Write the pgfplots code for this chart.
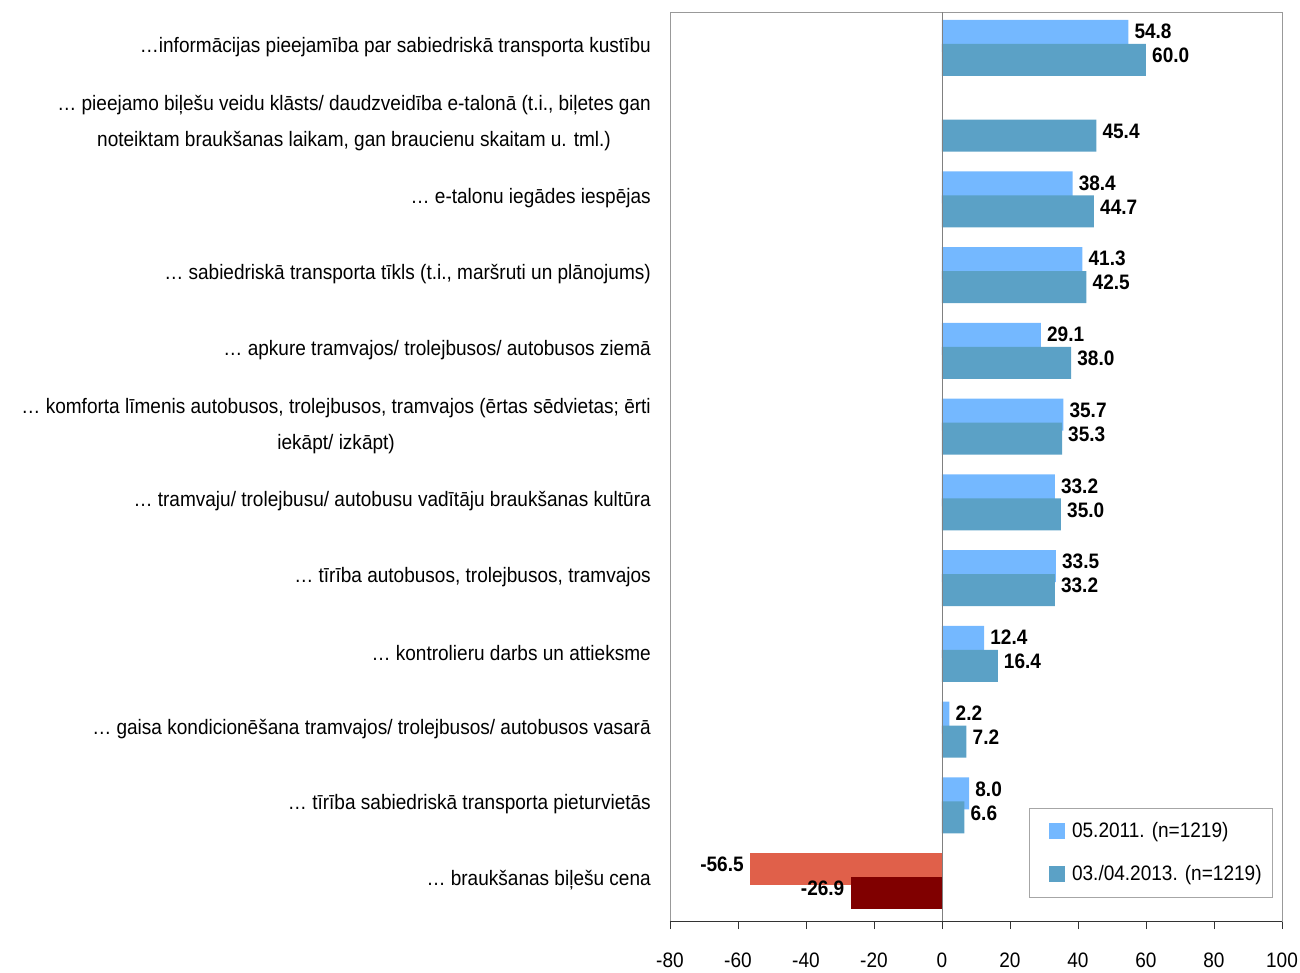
\documentclass[border=0pt]{standalone}
\usepackage{fontspec}
\setmainfont{Liberation Sans}[FakeStretch=0.91]
\usepackage{pgfplots}
\pgfplotsset{compat=1.18}
\definecolor{light}{HTML}{74B8FF}
\definecolor{dark}{HTML}{5BA1C6}
\definecolor{redbar}{HTML}{E0604A}
\definecolor{darkred}{HTML}{800000}
\newcommand{\lblfont}{\fontsize{11.9}{20.5}\selectfont}

% categories top to bottom are placed at y = 12 ... 1
\pgfplotstableread{
y   v
12  54.8
10  38.4
9   41.3
8   29.1
7   35.7
6   33.2
5   33.5
4   12.4
3   2.2
2   8.0
}\lightdata
\pgfplotstableread{
y   v
12  60.0
11  45.4
10  44.7
9   42.5
8   38.0
7   35.3
6   35.0
5   33.2
4   16.4
3   7.2
2   6.6
}\darkdata

\begin{document}
\begin{tikzpicture}
\useasboundingbox (-134mm,-10.2mm) rectangle (126mm,184.2mm);
\begin{axis}[
  scale only axis,
  width=122.4mm, height=181.8mm,
  xmin=-80, xmax=100, ymin=0.5, ymax=12.5,
  xtick={-80,-60,...,100},
  ytick={1,...,12},
  yticklabels={
    {… braukšanas biļešu cena},
    {… tīrība sabiedriskā transporta pieturvietās},
    {… gaisa kondicionēšana tramvajos/ trolejbusos/ autobusos vasarā},
    {… kontrolieru darbs un attieksme},
    {… tīrība autobusos, trolejbusos, tramvajos},
    {… tramvaju/ trolejbusu/ autobusu vadītāju braukšanas kultūra},
    {… komforta līmenis autobusos, trolejbusos, tramvajos (ērtas sēdvietas; ērti\\iekāpt/ izkāpt)},
    {… apkure tramvajos/ trolejbusos/ autobusos ziemā},
    {… sabiedriskā transporta tīkls (t.i., maršruti un plānojums)},
    {… e-talonu iegādes iespējas},
    {… pieejamo biļešu veidu klāsts/ daudzveidība e-talonā (t.i., biļetes gan\\noteiktam braukšanas laikam, gan braucienu skaitam u. tml.)},
    {…informācijas pieejamība par sabiedriskā transporta kustību}
  },
  axis line style={draw=gray!80},
  xtick pos=bottom,
  tick align=outside,
  major tick length=1.6mm,
  xtick style={draw=black!80},
  ytick style={draw=none},
  /pgf/number format/assume math mode=true,
  xticklabel style={font=\lblfont, yshift=-3.6mm},
  yticklabel style={font=\lblfont, align=center, xshift=-1.0mm, yshift=0.6mm},
  nodes near coords,
  nodes near coords align={horizontal},
  point meta=x,
  every node near coord/.append style={font=\lblfont\bfseries,
    /pgf/number format/fixed, /pgf/number format/precision=1,
    /pgf/number format/fixed zerofill, /pgf/number format/assume math mode=true},
  legend style={at={(1,0)}, anchor=south east, xshift=-1.8mm, yshift=4.6mm,
    draw=gray!70, font=\lblfont, inner xsep=1.5mm, inner ysep=2.2mm,
    row sep=3.6mm},
  legend cell align=left,
  legend image code/.code={\path (0mm,0mm) (6.4mm,0mm); \fill[#1] (2.4mm,-1.6mm) rectangle (5.6mm,1.6mm);},
]
\addplot[xbar, bar width=6.4mm, bar shift=2.8mm, fill=light, draw=none,
  every node near coord/.append style={yshift=3.7mm}]
  table[x=v, y=y] {\lightdata};
\addplot[xbar, bar width=6.4mm, bar shift=-2.0mm, fill=dark, draw=none,
  every node near coord/.append style={yshift=-1.1mm}]
  table[x=v, y=y] {\darkdata};
\addplot[xbar, bar width=6.4mm, bar shift=2.8mm, fill=redbar, draw=none, forget plot,
  every node near coord/.append style={yshift=3.7mm}]
  coordinates {(-56.5,1)};
\addplot[xbar, bar width=6.4mm, bar shift=-2.0mm, fill=darkred, draw=none, forget plot,
  every node near coord/.append style={yshift=-1.1mm}]
  coordinates {(-26.9,1)};
\legend{05.2011. (n=1219), 03./04.2013. (n=1219)}
\draw[gray] (axis cs:0,0.5) -- (axis cs:0,12.5);
\draw[black!80] (axis cs:-80,0.5) -- (axis cs:100,0.5);
\end{axis}
\end{tikzpicture}
\end{document}
